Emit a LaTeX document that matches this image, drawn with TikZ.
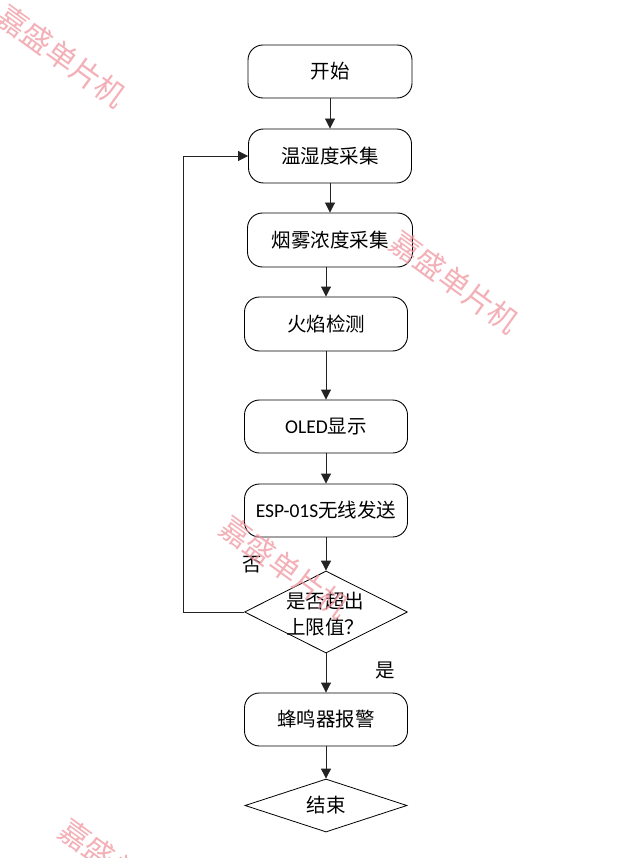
\documentclass[tikz,border=0pt]{standalone}
\usepackage{fontspec}
\setmainfont{Carlito}
\newfontfamily\cjk{Noto Sans CJK SC}
\usetikzlibrary{arrows.meta,shapes.geometric}
\definecolor{wmc}{RGB}{240,150,160}
\definecolor{linec}{RGB}{35,35,35}
\begin{document}
\begin{tikzpicture}[x=1pt,y=-1pt,
  txt/.style={font=\fontsize{19.5}{26}\selectfont\cjk, inner sep=0pt},
  proc/.style={draw=black, line width=0.9pt, rounded corners=15pt,
    minimum width=163pt, minimum height=53pt, inner sep=0pt,
    font=\fontsize{19.5}{26}\selectfont\cjk},
  dec/.style={draw=black, line width=0.8pt, diamond, inner sep=0pt},
  conn/.style={draw=linec, line width=0.9pt, -{Triangle[length=10pt,width=10pt]}},
  wm/.style={text=wmc, opacity=0.75, rotate=-36, inner sep=0pt,
    font=\fontsize{30}{31}\selectfont\cjk}
]
\useasboundingbox (0,0) rectangle (623,858);
\clip (0,0) rectangle (623,858);
\fill[white] (0,0) rectangle (623,858);

\node[proc, minimum width=164pt] (b1) at (330,71.5) {开始};
\node[proc, minimum width=163pt, minimum height=54pt] (b2) at (330,156) {温湿度采集};
\node[proc, minimum width=165pt, minimum height=54pt] (b3) at (330,240) {烟雾浓度采集};
\node[proc, minimum height=54pt] (b4) at (326,324) {火焰检测};
\node[proc] (b5) at (326,426.5) {{\fontspec{Carlito}OLED}显示};
\node[proc] (b6) at (326,510.5) {{\fontspec{Carlito}ESP-01S}无线发送};
\node[dec, minimum width=163pt, minimum height=82pt] (d) at (326,612) {};
\node[txt, align=center] (dt) at (325,614) {是否超出\\上限值？};
\node[proc] (b7) at (326,719.5) {蜂鸣器报警};
\node[dec, minimum width=162pt, minimum height=53pt] (e) at (326,805.5) {};
\node[txt] (et) at (e) {结束};

\node[txt] (no) at (252,565) {否};
\node[txt] (yes) at (385,670) {是};

\coordinate (lp) at (183,612);

\draw[conn] (b1) -- (b2);
\draw[conn] (b2) -- (b3.north -| b2.south);
\draw[conn] (b3.south -| b4.north) -- (b4.north);
\draw[conn] (b4) -- (b5);
\draw[conn] (b5) -- (b6);
\draw[conn] (b6) -- (d.north);
\draw[conn] (d.south) -- (b7.north);
\draw[conn] (b7) -- (e.north);
\draw[conn] (d.west) -- (lp) |- (b2.west);

\node[wm] (w1) at (62,56) {嘉盛单片机};
\node[wm] (w2) at (455,282) {嘉盛单片机};
\node[wm] (w3) at (285,567) {嘉盛单片机};
\node[wm] (w4) at (124,870) {嘉盛单片机};
\end{tikzpicture}
\end{document}
